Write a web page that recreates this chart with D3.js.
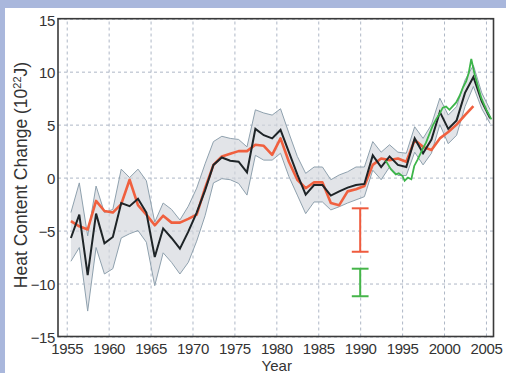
<!DOCTYPE html>
<html>
<head>
<meta charset="utf-8">
<script src="https://cdn.jsdelivr.net/npm/d3@7"></script>
<style>
  html, body { margin: 0; padding: 0; background: #a9b7dc; }
  svg { display: block; }
  svg text { font-family: "Liberation Sans", Arial, sans-serif; fill: #333; }
</style>
</head>
<body>
<div id="chart"></div>
<script>
// yearly values sit at mid-year
const years = [1955.5, 1956.5, 1957.5, 1958.5, 1959.5, 1960.5, 1961.5, 1962.5, 1963.5, 1964.5,
    1965.5, 1966.5, 1967.5, 1968.5, 1969.5, 1970.5, 1971.5, 1972.5, 1973.5, 1974.5,
    1975.5, 1976.5, 1977.5, 1978.5, 1979.5, 1980.5, 1981.5, 1982.5, 1983.5, 1984.5,
    1985.5, 1986.5, 1987.5, 1988.5, 1989.5, 1990.5, 1991.5, 1992.5, 1993.5, 1994.5,
    1995.5, 1996.5, 1997.5, 1998.5, 1999.5, 2000.5, 2001.5, 2002.5, 2003.5, 2004.5, 2005.5];

const blackVals = [-5.7, -3.5, -9.2, -3.4, -6.2, -5.6, -2.4, -2.7, -2.0, -3.3,
    -7.5, -4.8, -5.7, -6.7, -5.1, -3.3, -1.2, 1.2, 1.9, 1.6,
    1.5, 0.5, 4.6, 4.0, 3.7, 4.5, 2.4, 0.3, -1.6, -0.7,
    -0.7, -1.7, -1.3, -0.95, -0.7, -0.6, 2.1, 1.0, 2.0, 1.2,
    1.0, 3.7, 2.3, 3.6, 6.2, 4.6, 5.4, 8.0, 9.5, 7.2, 5.6];

const upperVals = [-3.3, -0.5, -5.5, -0.8, -3.3, -3.0, 0.8, 0.0, 0.8, -0.3,
    -4.2, -2.4, -3.0, -4.0, -2.7, -1.0, 1.3, 3.4, 3.9, 3.7,
    3.6, 2.9, 6.4, 6.1, 5.9, 6.5, 4.2, 2.0, 0.4, 1.0,
    1.0, -0.2, 0.25, 0.55, 1.0, 1.0, 3.4, 2.4, 3.1, 2.4,
    2.3, 4.8, 3.7, 5.0, 7.5, 5.9, 6.7, 9.2, 10.6, 8.0, 6.4];

const lowerVals = [-7.9, -6.6, -12.6, -6.6, -9.1, -8.6, -5.7, -5.3, -5.0, -6.1,
    -10.2, -7.1, -8.0, -9.1, -8.0, -6.0, -3.6, -0.5, -0.1, -0.2,
    -0.55, -1.65, 2.1, 1.65, 1.65, 2.3, 0.1, -1.65, -3.4, -2.3,
    -2.3, -3.05, -2.75, -2.4, -2.1, -1.8, 0.7, -0.2, 1.0, 0.2,
    0.2, 2.4, 1.2, 2.3, 5.0, 3.2, 4.0, 6.7, 8.6, 6.5, 5.1];

// red series stops at 2003.5
const redVals = [-4.1, -4.6, -4.9, -2.2, -3.15, -3.3, -2.5, -0.2, -2.6, -3.5,
    -4.5, -3.6, -4.25, -4.25, -3.9, -3.5, -1.0, 1.2, 2.0, 2.25,
    2.5, 2.5, 3.1, 3.0, 2.15, 3.7, 1.5, -0.2, -1.0, -0.45,
    -0.45, -2.4, -2.6, -1.3, -1.1, -0.8, 1.2, 1.8, 1.65, 1.8,
    1.5, 3.55, 2.9, 2.6, 3.7, 4.3, 5.0, 5.9, 6.75];

const greenYears = [1993.05, 1993.65, 1994.25, 1994.6, 1995.05, 1995.3, 1995.7, 1996.1, 1996.45, 1996.85,
    1997.45, 1997.85, 1998.25, 1998.65, 1999.05, 1999.45, 1999.85, 2000.25, 2000.65, 2001.05,
    2001.45, 2001.85, 2002.25, 2002.65, 2002.95, 2003.25, 2003.65, 2004.05, 2004.45, 2005.05, 2005.65];
const greenVals = [1.6, 0.8, 0.3, 0.4, 0.15, -0.3, 0.0, -0.15, 1.1, 1.7,
    2.7, 3.3, 4.1, 4.9, 5.5, 6.0, 6.6, 6.7, 6.4, 6.75,
    7.1, 7.7, 8.5, 9.1, 9.9, 11.2, 9.75, 8.6, 7.5, 6.4, 5.5];

// error bars drawn at 1990
const errYear = 1990;
const redErr = [-2.9, -7.0];
const greenErr = [-8.6, -11.2];

const xTicks = [1955, 1960, 1965, 1970, 1975, 1980, 1985, 1990, 1995, 2000, 2005];
const yTicks = [-15, -10, -5, 0, 5, 10, 15];

class HeatChart {
    constructor(container, width, height) {
        this.width = width;
        this.height = height;

        this.svg = d3.select(container).append("svg")
            .attr("width", width)
            .attr("height", height);

        // blue page edge + white panel
        this.svg.append("rect").attr("width", width).attr("height", height).attr("fill", "#a9b7dc");
        this.svg.append("rect").attr("x", 5).attr("y", 8)
            .attr("width", width - 5).attr("height", height - 8).attr("fill", "#fff");

        this.plot = { left: 58, right: 493.5, top: 18.7, bottom: 336.5 };

        this.x = d3.scaleLinear().domain([1953.96, 2005.9]).range([this.plot.left, this.plot.right]);
        this.y = d3.scaleLinear().domain([-15, 15]).range([this.plot.bottom, this.plot.top]);
    }

    grid() {
        const p = this.plot;
        const gx = this.svg.append("g")
            .attr("transform", `translate(0,${p.bottom})`)
            .call(d3.axisBottom(this.x).tickValues(xTicks).tickSize(-(p.bottom - p.top)).tickFormat(""));
        const gy = this.svg.append("g")
            .attr("transform", `translate(${p.left},0)`)
            .call(d3.axisLeft(this.y).tickValues(yTicks).tickSize(-(p.right - p.left)).tickFormat(""));

        [gx, gy].forEach(g => {
            g.select(".domain").remove();
            g.selectAll(".tick line")
                .attr("stroke", "#aeb7c6")
                .attr("stroke-width", 1)
                .attr("stroke-dasharray", "3,3");
        });
        return this;
    }

    series() {
        const x = this.x, y = this.y;
        const band = years.map((yr, i) => [yr, lowerVals[i], upperVals[i]]);

        this.svg.append("path")
            .datum(band)
            .attr("d", d3.area().x(d => x(d[0])).y0(d => y(d[1])).y1(d => y(d[2])))
            .attr("fill", "#d3d6dc")
            .attr("fill-opacity", 0.65);

        const line = d3.line().x(d => x(d[0])).y(d => y(d[1]));

        // band edges
        [upperVals, lowerVals].forEach(vals => {
            this.svg.append("path")
                .datum(years.map((yr, i) => [yr, vals[i]]))
                .attr("d", line)
                .attr("fill", "none")
                .attr("stroke", "#8fa1ae")
                .attr("stroke-width", 1);
        });

        this.svg.append("path")
            .datum(redVals.map((v, i) => [years[i], v]))
            .attr("d", line)
            .attr("fill", "none")
            .attr("stroke", "#f0603f")
            .attr("stroke-width", 2.6)
            .attr("stroke-linejoin", "round");

        this.svg.append("path")
            .datum(years.map((yr, i) => [yr, blackVals[i]]))
            .attr("d", line)
            .attr("fill", "none")
            .attr("stroke", "#1e2427")
            .attr("stroke-width", 2);

        this.svg.append("path")
            .datum(greenYears.map((yr, i) => [yr, greenVals[i]]))
            .attr("d", line)
            .attr("fill", "none")
            .attr("stroke", "#3db54a")
            .attr("stroke-width", 1.8);

        return this;
    }

    errorBars() {
        const x = this.x, y = this.y;
        const bars = [{ r: redErr, c: "#ef5b3e" }, { r: greenErr, c: "#45b549" }];
        bars.forEach(b => {
            const g = this.svg.append("g").attr("stroke", b.c).attr("stroke-width", 2);
            g.append("line").attr("x1", x(errYear)).attr("x2", x(errYear))
                .attr("y1", y(b.r[0])).attr("y2", y(b.r[1]));
            b.r.forEach(v => {
                g.append("line").attr("x1", x(errYear - 1)).attr("x2", x(errYear + 1))
                    .attr("y1", y(v)).attr("y2", y(v));
            });
        });
        return this;
    }

    axes() {
        const p = this.plot;
        const ax = this.svg.append("g")
            .attr("transform", `translate(0,${p.bottom})`)
            .call(d3.axisBottom(this.x).tickValues(xTicks).tickSize(0).tickPadding(7).tickFormat(d3.format("d")));
        const ay = this.svg.append("g")
            .attr("transform", `translate(${p.left},0)`)
            .call(d3.axisLeft(this.y).tickValues(yTicks).tickSize(0).tickPadding(3));

        [ax, ay].forEach(g => {
            g.select(".domain").remove();
            g.selectAll("text")
                .attr("font-family", null)
                .attr("font-size", "15px")
                .attr("letter-spacing", "-0.4px")
                .attr("fill", "#333");
        });
        ay.selectAll("text").attr("dy", "0.42em");

        // frame
        this.svg.append("rect")
            .attr("x", p.left).attr("y", p.top)
            .attr("width", p.right - p.left).attr("height", p.bottom - p.top)
            .attr("fill", "none")
            .attr("stroke", "#3a3a3a")
            .attr("stroke-width", 1.6);

        this.svg.append("text")
            .attr("x", (p.left + p.right) / 2 + 1)
            .attr("y", 371)
            .attr("text-anchor", "middle")
            .attr("font-size", "15px")
            .text("Year");

        const yl = this.svg.append("text")
            .attr("transform", "translate(27,175) rotate(-90)")
            .attr("text-anchor", "middle")
            .attr("font-size", "17.5px");
        yl.append("tspan").text("Heat Content Change (10");
        yl.append("tspan").attr("font-size", "11px").attr("dy", "-6").text("22");
        yl.append("tspan").attr("dy", "6").text("J)");

        return this;
    }
}

new HeatChart("#chart", 506, 373).grid().series().errorBars().axes();
</script>
</body>
</html>
